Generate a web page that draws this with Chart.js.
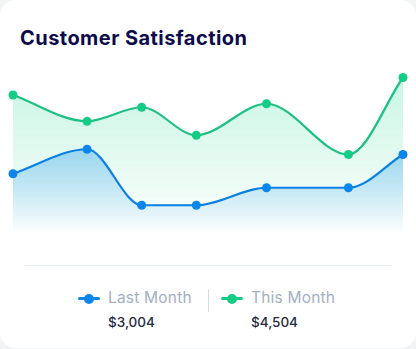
<!DOCTYPE html>
<html>
<head>
<meta charset="utf-8">
<script src="https://cdn.jsdelivr.net/npm/chart.js@4.4.1/dist/chart.umd.min.js"></script>
<style>
  html, body { margin: 0; padding: 0; }
  body { width: 416px; height: 349px; background: #f3f4f6; overflow: hidden; font-family: "Inter", "Open Sans", sans-serif; }
  .card { position: absolute; left: 0; top: 0; width: 416px; height: 348px; background: #fff; border-radius: 16px; }
  .title { position: absolute; left: 20px; top: 26px; font-size: 20px; font-weight: 700; color: #0d0b4c; letter-spacing: 0.45px; white-space: nowrap; }
  .chart-box { position: absolute; left: 0; top: 40px; width: 416px; height: 200px; }
  .sep { position: absolute; left: 24px; top: 265px; width: 368px; height: 1px; background: #e9eef2; }
  .legend-item { position: absolute; top: 288px; }
  .marker { position: absolute; top: 9px; width: 22px; height: 3px; border-radius: 2px; }
  .marker::after { content: ""; position: absolute; left: 6px; top: -3.5px; width: 10px; height: 10px; border-radius: 50%; background: inherit; }
  .lname { position: absolute; white-space: nowrap; font-size: 15.5px; color: #a3afc2; font-weight: 400; letter-spacing: 0.2px; }
  .lval { position: absolute; top: 26px; white-space: nowrap; font-size: 13.5px; color: #272a3f; font-weight: 500; }
  .vdiv { position: absolute; left: 208px; top: 289px; width: 1px; height: 23px; background: #d5dbe3; }
</style>
</head>
<body>
<div class="card">
  <div class="title">Customer Satisfaction</div>
  <div class="chart-box"><canvas id="chart"></canvas></div>
  <div class="sep"></div>
  <div class="vdiv"></div>
  <div id="legend"></div>
</div>
<script>
// Sample positions along the period (0–100) and satisfaction scores per series
const positions = [0, 19, 33, 47, 65, 86, 100];
const lastMonth = [35, 49, 17, 17, 27, 27, 46];
const thisMonth = [80, 65, 73, 57, 75, 46, 90];
const seriesNames = ['Last Month', 'This Month'];
const seriesTotals = ['$3,004', '$4,504'];
const seriesColors = ['#0a86ec', '#14cc86'];

function points(values) {
  return values.map((v, i) => ({ x: positions[i], y: v }));
}

function fade(rgb, topAlpha, startFrac) {
  return (ctx) => {
    const area = ctx.chart.chartArea;
    if (!area) return 'rgba(' + rgb + ',0)';
    const y0 = area.top + (area.bottom - area.top) * startFrac;
    const g = ctx.chart.ctx.createLinearGradient(0, y0, 0, area.bottom);
    g.addColorStop(0, 'rgba(' + rgb + ',' + topAlpha + ')');
    g.addColorStop(1, 'rgba(' + rgb + ',0)');
    return g;
  };
}

const ctx = document.getElementById('chart');
new Chart(ctx, {
  type: 'line',
  data: {
    datasets: [
      {
        label: seriesNames[0],
        data: points(lastMonth),
        borderColor: '#0a80e4',
        pointBackgroundColor: seriesColors[0],
        pointBorderColor: seriesColors[0],
        backgroundColor: fade('10,140,235', 0.34, 0.5),
        fill: 'origin',
        clip: false
      },
      {
        label: seriesNames[1],
        data: points(thisMonth),
        borderColor: '#1cc083',
        pointBackgroundColor: seriesColors[1],
        pointBorderColor: seriesColors[1],
        backgroundColor: fade('30,215,140', 0.26, 0.05),
        fill: 'origin',
        clip: false
      }
    ]
  },
  options: {
    responsive: true,
    maintainAspectRatio: false,
    animation: false,
    layout: { padding: { left: 13, right: 13, top: 20, bottom: 5 } },
    elements: {
      line: { cubicInterpolationMode: 'monotone', borderWidth: 2.2 },
      point: { radius: 4.5, borderWidth: 0, hoverRadius: 5 }
    },
    scales: {
      x: { type: 'linear', min: 0, max: 100, display: false },
      y: { min: 0, max: 100, display: false }
    },
    plugins: { legend: { display: false }, tooltip: { enabled: false } }
  }
});

// Legend below the plot: name with line marker, and the period total
const legend = document.getElementById('legend');
const legendX = [78, 221];
seriesNames.forEach((name, i) => {
  const item = document.createElement('div');
  item.className = 'legend-item';
  item.style.left = legendX[i] + 'px';
  item.innerHTML =
    '<div class="marker" style="left:0;background:' + seriesColors[i] + '"></div>' +
    '<div class="lname" style="left:30px;top:0">' + name + '</div>' +
    '<div class="lval" style="left:30px">' + seriesTotals[i] + '</div>';
  legend.appendChild(item);
});
</script>
</body>
</html>
